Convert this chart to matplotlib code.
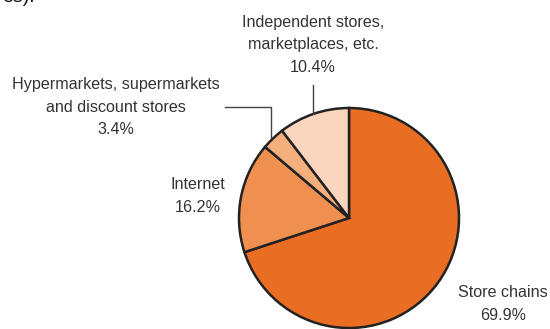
import matplotlib.pyplot as plt

# shares of sales channels (%), clockwise from top
labels = ['Store chains', 'Internet', 'Hypermarkets, supermarkets\nand discount stores', 'Independent stores,\nmarketplaces, etc.']
shares = [69.9, 16.2, 3.4, 10.4]
colors = ['#E96D22', '#F09050', '#F5AF7C', '#FAD6BE']

plt.rcParams['font.family'] = ['Liberation Sans', 'DejaVu Sans']

fig = plt.figure(figsize=(5.5, 3.29), dpi=100)
ax = fig.add_axes([0, 0, 1, 1])

H = 329
ax.pie(shares, colors=colors, startangle=90, counterclock=False,
       center=(349, H - 218), radius=110, frame=True,
       wedgeprops=dict(edgecolor='#222222', linewidth=1.8))
ax.set_xlim(0, 550)
ax.set_ylim(0, 329)
ax.set_aspect('equal')
ax.axis('off')

tc = '#333333'
fs = 11.6
ls = 1.6
# label text, pixel positions of text centre
ax.text(503, H - 304, labels[0] + '\n' + f'{shares[0]}%', ha='center', va='center', fontsize=fs, color=tc, linespacing=ls)
ax.text(198, H - 196, labels[1] + '\n' + f'{shares[1]}%', ha='center', va='center', fontsize=fs, color=tc, linespacing=ls)
ax.text(116, H - 107, labels[2] + '\n' + f'{shares[2]}%', ha='center', va='center', fontsize=fs, color=tc, linespacing=ls)
ax.text(313, H - 45, labels[3] + '\n' + f'{shares[3]}%', ha='center', va='center', fontsize=fs, color=tc, linespacing=ls)

# leader lines
ax.plot([225, 271, 271], [H - 107, H - 107, H - 138], color='#444444', lw=1)
ax.plot([313, 313], [H - 85, H - 114], color='#444444', lw=1)

# clipped caption end from the page above
ax.text(2, H + 2, 'es).', ha='left', va='center', fontsize=14, color='#111111')

fig.savefig('out.png', dpi=100)
